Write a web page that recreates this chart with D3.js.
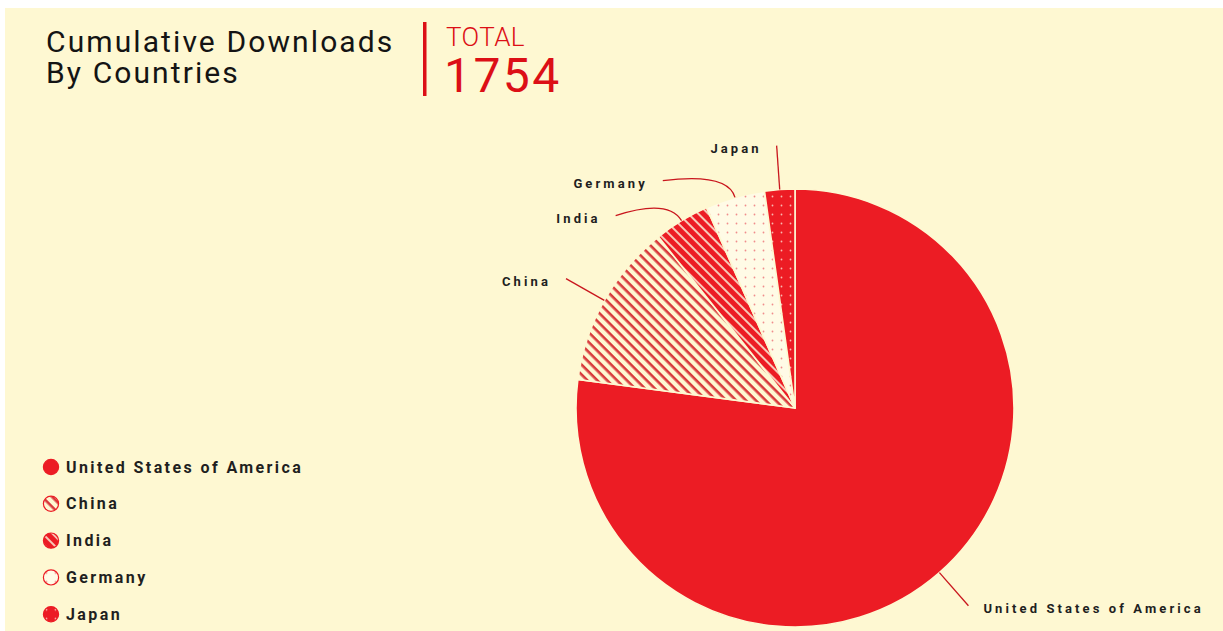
<!DOCTYPE html>
<html>
<head>
<meta charset="utf-8">
<script src="https://cdn.jsdelivr.net/npm/d3@7"></script>
<style>
  body { margin: 0; background: #fff; }
  svg { display: block; }
  .title { font-family: Roboto, sans-serif; font-size: 30px; fill: #141414; letter-spacing: 2.1px; }
  .total { font-family: Roboto, sans-serif; fill: #dc0f16; }
  .lbl { font-family: Roboto, sans-serif; font-weight: 700; fill: #1f1f1f; }
</style>
</head>
<body>
<div id="chart"></div>
<script>
// values (total shown is 1754)
var countries = ["United States of America", "China", "India", "Germany", "Japan"];
var downloads = [1352, 214, 72, 77, 39];
var titleLines = ["Cumulative Downloads", "By Countries"];

var width = 1223, height = 631;
var bg = "#fef8d2";
var red = "#ec1c24";
var cx = 795, cy = 408, radius = 219;

var svg = d3.select("#chart").append("svg")
	.attr("width", width)
	.attr("height", height);

svg.append("rect")
	.attr("x", 5).attr("y", 8)
	.attr("width", width - 5).attr("height", height - 8)
	.attr("fill", bg);

// fill patterns, one per slice
var defs = svg.append("defs");

var p = defs.append("pattern").attr("id", "pat1")
	.attr("patternUnits", "userSpaceOnUse")
	.attr("width", 7).attr("height", 7)
	.attr("patternTransform", "rotate(45)");
p.append("rect").attr("width", 7).attr("height", 7).attr("fill", bg);
p.append("rect").attr("width", 7).attr("height", 2.6).attr("fill", "#d83a3c");

p = defs.append("pattern").attr("id", "pat2")
	.attr("patternUnits", "userSpaceOnUse")
	.attr("width", 7).attr("height", 7)
	.attr("patternTransform", "rotate(45)");
p.append("rect").attr("width", 7).attr("height", 7).attr("fill", red);
p.append("rect").attr("width", 7).attr("height", 2).attr("fill", "#f8c9b8");

p = defs.append("pattern").attr("id", "pat3")
	.attr("patternUnits", "userSpaceOnUse")
	.attr("width", 9).attr("height", 9);
p.append("rect").attr("width", 9).attr("height", 9).attr("fill", "#fffbe6");
p.append("circle").attr("cx", 4.5).attr("cy", 4.5).attr("r", 0.9).attr("fill", "#f08c8c");

p = defs.append("pattern").attr("id", "pat4")
	.attr("patternUnits", "userSpaceOnUse")
	.attr("width", 9).attr("height", 9);
p.append("rect").attr("width", 9).attr("height", 9).attr("fill", red);
p.append("circle").attr("cx", 4.5).attr("cy", 4.5).attr("r", 0.9).attr("fill", "#f9b9b0");

function fillFor(i) {
	return i === 0 ? red : "url(#pat" + i + ")";
}

// title block, one text with a line per tspan
var title = svg.append("text")
	.attr("class", "title")
	.attr("x", 46)
	.attr("y", 52);
title.selectAll("tspan")
	.data(titleLines)
	.enter()
	.append("tspan")
	.attr("x", 46)
	.attr("dy", (d, i) => i === 0 ? 0 : 31)
	.text(d => d);

svg.append("rect")
	.attr("x", 423).attr("y", 22)
	.attr("width", 3.5).attr("height", 74)
	.attr("fill", "#dc0f16");

var total = svg.append("text")
	.attr("class", "total")
	.attr("x", 446).attr("y", 46);
total.append("tspan")
	.style("font-size", "26px")
	.style("font-weight", 300)
	.style("letter-spacing", "0.4px")
	.text("TOTAL");
total.append("tspan")
	.attr("x", 444)
	.attr("dy", 46)
	.style("font-size", "48px")
	.style("letter-spacing", "2.4px")
	.text(d3.sum(downloads));

// pie
var pie = d3.pie().sort(null).value(d => d);
var arcs = pie(downloads);
var arc = d3.arc().innerRadius(0).outerRadius(radius);

var g = svg.append("g").attr("transform", "translate(" + cx + "," + cy + ")");

g.selectAll("path.slice")
	.data(arcs)
	.enter()
	.append("path")
	.attr("class", "slice")
	.attr("d", arc)
	.attr("fill", (d, i) => fillFor(i))
	.attr("stroke", bg)
	.attr("stroke-width", 1.6)
	.attr("stroke-linejoin", "round");

// label layout: ends sit on a circle, pushed apart vertically
var endR = 263, minGap = 35;
var labels = arcs.map((d, i) => {
	var a = (d.startAngle + d.endAngle) / 2;
	return { i: i, a: a, side: a > Math.PI ? -1 : 1, y: -endR * Math.cos(a) };
});
[-1, 1].forEach(side => {
	var list = labels.filter(l => l.side === side).sort((a, b) => a.y - b.y);
	for (let k = 1; k < list.length; k++) {
		if (list[k].y < list[k - 1].y + minGap) list[k].y = list[k - 1].y + minGap;
	}
});
labels.forEach(l => {
	l.x = l.side * Math.sqrt(Math.max(0, endR * endR - l.y * l.y));
});

var edgeArc = d3.arc().innerRadius(radius).outerRadius(radius);
var bendArc = d3.arc().innerRadius(radius + 26).outerRadius(radius + 26);

g.selectAll("path.leader")
	.data(labels)
	.enter()
	.append("path")
	.attr("class", "leader")
	.attr("fill", "none")
	.attr("stroke", "#c9161d")
	.attr("stroke-width", 1.3)
	.attr("d", l => {
		var p0 = edgeArc.centroid(arcs[l.i]);
		var c = bendArc.centroid(arcs[l.i]);
		return "M" + p0[0] + "," + p0[1] + "Q" + c[0] + "," + c[1] + " " + l.x + "," + l.y;
	});

g.selectAll("text.lbl")
	.data(labels)
	.enter()
	.append("text")
	.attr("class", "lbl")
	.attr("x", l => l.x + l.side * 15)
	.attr("y", l => l.y + 7.5)
	.attr("text-anchor", l => l.side < 0 ? "end" : "start")
	.style("font-size", "13px")
	.style("letter-spacing", "3.1px")
	.text(l => countries[l.i]);

// legend
var legend = svg.append("g").attr("transform", "translate(51,467)");
var item = legend.selectAll("g")
	.data(countries)
	.enter()
	.append("g")
	.attr("transform", (d, i) => "translate(0," + (i * 36.8) + ")");

item.append("circle")
	.attr("r", 7.6)
	.attr("fill", (d, i) => fillFor(i))
	.attr("stroke", red)
	.attr("stroke-width", 1.2);

item.append("text")
	.attr("class", "lbl")
	.attr("x", 15)
	.attr("y", 5.5)
	.style("font-size", "16px")
	.style("letter-spacing", "2.4px")
	.text(d => d);
</script>
</body>
</html>
